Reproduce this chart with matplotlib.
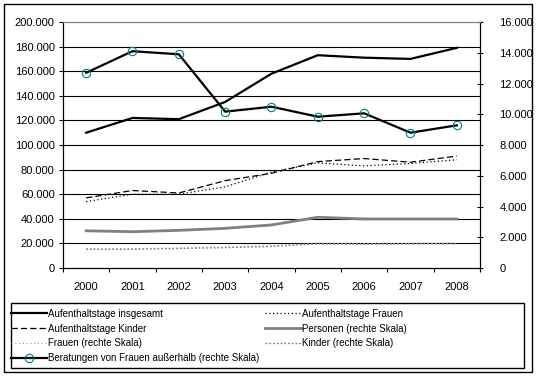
import numpy as np
import matplotlib
matplotlib.use("Agg")
from matplotlib import pyplot as plt
from matplotlib.patches import Rectangle
from matplotlib.ticker import FuncFormatter, FixedLocator

plt.rcParams["font.family"] = ["Liberation Sans", "DejaVu Sans"]
plt.rcParams["font.size"] = 8

# Werte
jahre = ["2000", "2001", "2002", "2003", "2004", "2005", "2006", "2007", "2008"]
tage_gesamt = [110000, 122000, 121000, 135000, 158000, 173000, 171000, 170000, 179000]
tage_frauen = [54000, 60000, 60000, 66000, 78000, 85500, 83000, 85000, 88000]
tage_kinder = [57000, 63000, 61000, 71000, 77000, 86500, 89000, 86000, 91000]
personen = [2420, 2360, 2450, 2580, 2800, 3300, 3190, 3190, 3190]
frauen_r = [1250, 1250, 1300, 1360, 1450, 1620, 1580, 1600, 1620]
kinder_r = [1220, 1220, 1270, 1320, 1400, 1570, 1550, 1580, 1580]
beratungen = [12700, 14100, 13900, 10170, 10490, 9840, 10060, 8800, 9280]

W, H = 537, 377
fig = plt.figure(figsize=(W / 100, H / 100), dpi=100)


def fx(px):
    return px / W


def fy(py):
    return 1 - py / H


ax = fig.add_axes([fx(63), fy(268), fx(480) - fx(63), fy(22) - fy(268)])
ax2 = ax.twinx()

x = np.arange(len(jahre))


def punkte(v, pos):
    return f"{v:,.0f}".replace(",", ".")


# linke Skala
l1, = ax.plot(x, tage_gesamt, color="black", lw=1.6, label="Aufenthaltstage insgesamt")
l2, = ax.plot(x, tage_frauen, color="black", lw=0.9, dashes=(1, 2), label="Aufenthaltstage Frauen")
l3, = ax.plot(x, tage_kinder, color="black", lw=0.9, dashes=(5, 2.5), label="Aufenthaltstage Kinder")

# rechte Skala
l4, = ax2.plot(x, personen, color="#808080", lw=2, label="Personen (rechte Skala)")
l5, = ax2.plot(x, frauen_r, color="#a0a0a0", lw=0.9, dashes=(1, 2), label="Frauen (rechte Skala)")
l6, = ax2.plot(x, kinder_r, color="#808080", lw=0.9, dashes=(1.5, 1.5), label="Kinder (rechte Skala)")
l7, = ax2.plot(x, beratungen, color="black", lw=1.6, marker="o", ms=6,
               mfc="none", mec="#008080", mew=0.8,
               label="Beratungen von Frauen außerhalb (rechte Skala)")

ax.set_xlim(-0.5, len(jahre) - 0.5)
ax.set_ylim(0, 200000)
ax2.set_ylim(0, 16000)

ax.set_yticks(np.arange(0, 200001, 20000))
ax.yaxis.set_major_formatter(FuncFormatter(punkte))
ax2.set_yticks(np.arange(0, 16001, 2000))
ax2.yaxis.set_major_formatter(FuncFormatter(punkte))

ax.set_xticks(x)
ax.set_xticklabels(jahre)
ax.xaxis.set_minor_locator(FixedLocator(np.arange(-0.5, len(jahre), 1)))
ax.tick_params(axis="x", which="major", length=0, pad=10)
ax.tick_params(axis="x", which="minor", length=3, width=0.8, direction="out")
ax.tick_params(axis="y", length=3, width=0.8, pad=3)
ax2.tick_params(axis="y", length=4, width=0.8, direction="inout", pad=12)

for v in np.arange(20000, 200000, 20000):
    ax.axhline(v, color="black", lw=0.8, zorder=0)

for a in (ax, ax2):
    a.spines["top"].set_color("#808080")
    a.spines["top"].set_linewidth(0.8)
    for s in ("left", "right", "bottom"):
        a.spines[s].set_linewidth(0.8)

# Rahmen und Legende
fig.add_artist(Rectangle((fx(4), fy(372)), fx(532) - fx(4), fy(4) - fy(372),
                         transform=fig.transFigure, fill=False, lw=1, ec="black"))
fig.add_artist(Rectangle((fx(10.5), fy(368)), fx(524) - fx(10.5), fy(302.5) - fy(368),
                         transform=fig.transFigure, fill=False, lw=1, ec="black"))

handles = [l1, l3, l5, l7, l2, l4, l6]
fig.legend(handles, [h.get_label() for h in handles], ncol=2,
           loc="upper left", bbox_to_anchor=(fx(3), fy(301)),
           frameon=False, handlelength=3.7, handletextpad=0.1,
           columnspacing=0.6, labelspacing=0.5, borderpad=0.3,
           fontsize=7)

fig.savefig("out.png", dpi=100)
